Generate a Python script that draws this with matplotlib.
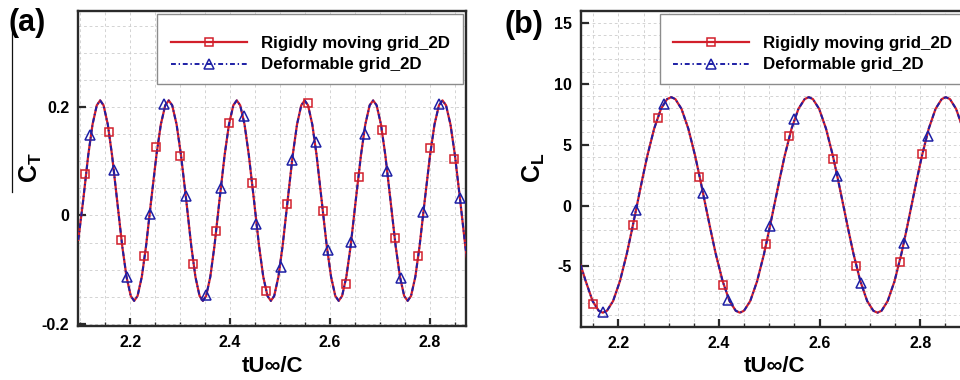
import matplotlib
matplotlib.use('Agg')
import matplotlib.pyplot as plt
from matplotlib.lines import Line2D
from matplotlib.patches import Rectangle
from matplotlib.ticker import MultipleLocator, FixedLocator, FuncFormatter

plt.rcParams['font.family'] = ['Liberation Sans', 'DejaVu Sans']
plt.rcParams['font.weight'] = 'bold'
plt.rcParams['axes.unicode_minus'] = False
plt.rcParams['mathtext.fontset'] = 'custom'
plt.rcParams['mathtext.rm'] = 'Liberation Sans:bold'
plt.rcParams['mathtext.bf'] = 'Liberation Sans:bold'
plt.rcParams['mathtext.it'] = 'Liberation Sans:bold'
plt.rcParams['lines.scale_dashes'] = False

# ---------------- data ----------------
series_labels = ['Rigidly moving grid_2D', 'Deformable grid_2D']
x_ticks = [2.2, 2.4, 2.6, 2.8]
ct_ticks = [-0.2, 0.0, 0.2]
cl_ticks = [-5, 0, 5, 10, 15]

# (a) thrust coefficient curve (both grids coincide)
ct_t = [2.096, 2.1057, 2.1159, 2.1245, 2.1330, 2.1398, 2.1466, 2.1551, 2.1636, 2.1738,
        2.1840, 2.1926, 2.2011, 2.2079, 2.2147, 2.2232, 2.2317, 2.2419, 2.2525, 2.2613,
        2.2701, 2.2771, 2.2841, 2.2929, 2.3017, 2.3123, 2.3223, 2.3306, 2.3389, 2.3455,
        2.3521, 2.3604, 2.3687, 2.3787, 2.3891, 2.3978, 2.4065, 2.4134, 2.4203, 2.4290,
        2.4376, 2.4480, 2.4581, 2.4665, 2.4750, 2.4817, 2.4884, 2.4968, 2.5052, 2.5153,
        2.5255, 2.5341, 2.5426, 2.5494, 2.5562, 2.5647, 2.5733, 2.5835, 2.5937, 2.6023,
        2.6108, 2.6176, 2.6244, 2.6329, 2.6415, 2.6517, 2.6622, 2.6709, 2.6796, 2.6866,
        2.6936, 2.7023, 2.7110, 2.7214, 2.7317, 2.7403, 2.7488, 2.7557, 2.7625, 2.7711,
        2.7796, 2.7899, 2.8006, 2.8095, 2.8184, 2.8255, 2.8326, 2.8415, 2.8504, 2.8610,
        2.8712, 2.8800]
ct_v = [-0.045, 0.0275, 0.1117, 0.1685, 0.2039, 0.2130, 0.2039, 0.1685, 0.1117, 0.0275,
        -0.0567, -0.1135, -0.1489, -0.1580, -0.1489, -0.1135, -0.0567, 0.0275, 0.1117, 0.1685,
        0.2039, 0.2130, 0.2039, 0.1685, 0.1117, 0.0275, -0.0567, -0.1135, -0.1489, -0.1580,
        -0.1489, -0.1135, -0.0567, 0.0275, 0.1117, 0.1685, 0.2039, 0.2130, 0.2039, 0.1685,
        0.1117, 0.0275, -0.0567, -0.1135, -0.1489, -0.1580, -0.1489, -0.1135, -0.0567, 0.0275,
        0.1117, 0.1685, 0.2039, 0.2130, 0.2039, 0.1685, 0.1117, 0.0275, -0.0567, -0.1135,
        -0.1489, -0.1580, -0.1489, -0.1135, -0.0567, 0.0275, 0.1117, 0.1685, 0.2039, 0.2130,
        0.2039, 0.1685, 0.1117, 0.0275, -0.0567, -0.1135, -0.1489, -0.1580, -0.1489, -0.1135,
        -0.0567, 0.0275, 0.1117, 0.1685, 0.2039, 0.2130, 0.2039, 0.1685, 0.1117, 0.0275,
        -0.0567, -0.1135]

# (a) symbols
ct_rigid_t = [2.110, 2.1566, 2.182, 2.228, 2.252, 2.300, 2.3254, 2.372, 2.3974, 2.4446, 2.4714,
              2.5146, 2.556, 2.5854, 2.6314, 2.6574, 2.7046, 2.730, 2.7774, 2.8014, 2.848]
ct_rigid_v = [0.077, 0.154, -0.045, -0.075, 0.126, 0.110, -0.090, -0.028, 0.171, 0.060, -0.140,
              0.022, 0.209, 0.009, -0.127, 0.072, 0.158, -0.042, -0.075, 0.125, 0.105]
ct_deform_t = [2.120, 2.1674, 2.1934, 2.2394, 2.2674, 2.3114, 2.3514, 2.3814, 2.4274, 2.4526, 2.5014,
               2.5246, 2.572, 2.5966, 2.642, 2.6694, 2.7146, 2.7434, 2.7874, 2.8186, 2.8606]
ct_deform_v = [0.149, 0.085, -0.113, 0.003, 0.206, 0.036, -0.148, 0.050, 0.184, -0.015, -0.095,
               0.103, 0.136, -0.063, -0.049, 0.151, 0.083, -0.116, 0.006, 0.206, 0.033]

# (b) lift coefficient curve (both grids coincide)
cl_t = [2.125, 2.135, 2.1486, 2.1608, 2.169, 2.1772, 2.1894, 2.203, 2.2166, 2.2268, 2.237,
        2.2472, 2.2574, 2.2710, 2.2846, 2.2968, 2.3050, 2.3132, 2.3254, 2.3390, 2.3526, 2.3628, 2.3730,
        2.3833, 2.3935, 2.4072, 2.4209, 2.4333, 2.4415, 2.4497, 2.4621, 2.4758, 2.4895, 2.4997, 2.5100,
        2.5203, 2.5305, 2.5442, 2.5579, 2.5703, 2.5785, 2.5867, 2.5991, 2.6128, 2.6265, 2.6367, 2.6470,
        2.6572, 2.6674, 2.6810, 2.6946, 2.7068, 2.7150, 2.7232, 2.7354, 2.7490, 2.7626, 2.7728, 2.7830,
        2.7932, 2.8034, 2.8170, 2.8306, 2.8428, 2.8510, 2.8592, 2.8714, 2.8850, 2.8986, 2.9088]
cl_v = [-4.90, -6.21, -7.84, -8.64, -8.80, -8.64, -7.84, -6.21, -3.97, -2.01, 0.05,
        2.11, 4.07, 6.31, 7.94, 8.74, 8.90, 8.74, 7.94, 6.31, 4.07, 2.11, 0.05,
        -2.01, -3.97, -6.21, -7.84, -8.64, -8.80, -8.64, -7.84, -6.21, -3.97, -2.01, 0.05,
        2.11, 4.07, 6.31, 7.94, 8.74, 8.90, 8.74, 7.94, 6.31, 4.07, 2.11, 0.05,
        -2.01, -3.97, -6.21, -7.84, -8.64, -8.80, -8.64, -7.84, -6.21, -3.97, -2.01, 0.05,
        2.11, 4.07, 6.31, 7.94, 8.74, 8.90, 8.74, 7.94, 6.31, 4.07, 2.11]

# (b) symbols
cl_rigid_t = [2.1503, 2.2286, 2.2784, 2.3605, 2.4088, 2.4932, 2.5395, 2.6264, 2.6722, 2.7597, 2.8034]
cl_rigid_v = [-8.05, -1.58, 7.22, 2.32, -6.49, -3.14, 5.69, 3.83, -4.95, -4.62, 4.21]
cl_deform_t = [2.169, 2.2352, 2.2915, 2.3691, 2.4188, 2.5017, 2.5494, 2.6344, 2.6821, 2.7676, 2.8154]
cl_deform_v = [-8.76, -0.33, 8.37, 1.04, -7.72, -1.70, 7.12, 2.41, -6.40, -3.06, 5.75]

# ---------------- style ----------------
RED = '#d21f2b'
BLUE = '#1d1fa6'
DASHDOT = (0, (3.5, 2.0, 1.0, 2.0))
W, H = 960, 380
MS_SQ, MS_TRI = 6.3, 7.2

fig = plt.figure(figsize=(9.6, 3.8), dpi=100)


def ax_px(l, t, r, b):
    return fig.add_axes([l / W, 1 - b / H, (r - l) / W, (b - t) / H])


def style(ax):
    for s in ax.spines.values():
        s.set_linewidth(1.7)
        s.set_color('#2a2a2a')
    ax.tick_params(which='both', direction='in', labelsize=11.5, pad=6.5, color='#2a2a2a')
    ax.tick_params(which='major', length=6, width=1.6)
    ax.tick_params(which='minor', length=3, width=1.0)
    ax.tick_params(axis='y', which='minor', length=0)
    ax.grid(which='both', color='#cccccc', linestyle=(0, (2, 2)), linewidth=0.6)
    ax.set_axisbelow(True)
    ax.xaxis.set_major_locator(FixedLocator(x_ticks))
    ax.xaxis.set_minor_locator(MultipleLocator(0.05))
    ax.xaxis.set_major_formatter(FuncFormatter(lambda v, p: '%.1f' % v))


def draw(ax, t, v, rt, rv, dt, dv):
    ax.plot(t, v, color=RED, lw=1.6, zorder=3)
    ax.plot(t, v, color=BLUE, lw=1.4, ls=DASHDOT, zorder=4)
    ax.plot(rt, rv, ls='none', marker='s', ms=MS_SQ, mfc='none', mec=RED, mew=1.1, zorder=5)
    ax.plot(dt, dv, ls='none', marker='^', ms=MS_TRI, mfc='none', mec=BLUE, mew=1.1, zorder=5)


def legend_box(ax, box_l, box_t, box_r, box_b, handle_l):
    bb = ax.get_position()
    al, ab = bb.x0 * W, (1 - bb.y1) * H
    aw, ah = bb.width * W, bb.height * H
    fx = lambda px: (px - al) / aw
    fy = lambda py: 1 - (py - ab) / ah
    ax.add_patch(Rectangle((fx(box_l), fy(box_b)), fx(box_r) - fx(box_l), fy(box_t) - fy(box_b),
                           transform=ax.transAxes, facecolor='white', edgecolor='#8c8c8c',
                           lw=1.0, zorder=6, clip_on=False))
    h1 = Line2D([], [], color=RED, lw=1.6, marker='s', ms=MS_SQ, mfc='none', mec=RED, mew=1.1)
    h2 = Line2D([], [], color=BLUE, lw=1.4, ls=DASHDOT, marker='^', ms=MS_TRI, mfc='none', mec=BLUE, mew=1.1)
    leg = ax.legend([h1, h2], series_labels, loc='upper left',
                    bbox_to_anchor=(fx(handle_l), fy(box_t + 22)), borderaxespad=0,
                    borderpad=0, frameon=False, fontsize=12.2, handlelength=4.5,
                    handletextpad=0.8, labelspacing=0.38, numpoints=1)
    leg.set_zorder(7)
    for txt in leg.get_texts():
        txt.set_fontweight('bold')


# panel (a)
axa = ax_px(78.3, 10.7, 465.7, 326.0)
style(axa)
draw(axa, ct_t, ct_v, ct_rigid_t, ct_rigid_v, ct_deform_t, ct_deform_v)
axa.set_xlim(2.096, 2.872)
axa.set_ylim(-0.2045, 0.379)
axa.yaxis.set_major_locator(FixedLocator(ct_ticks))
axa.yaxis.set_minor_locator(MultipleLocator(0.05))
axa.yaxis.set_major_formatter(FuncFormatter(lambda v, p: '%g' % round(v, 3)))
legend_box(axa, 157, 14, 463, 84, 171)

# panel (b)
axb = ax_px(580.7, 10.7, 975.0, 326.7)
style(axb)
draw(axb, cl_t, cl_v, cl_rigid_t, cl_rigid_v, cl_deform_t, cl_deform_v)
axb.set_xlim(2.125, 2.909)
axb.set_ylim(-9.95, 16.0)
axb.yaxis.set_major_locator(FixedLocator(cl_ticks))
axb.yaxis.set_minor_locator(MultipleLocator(1))
axb.yaxis.set_major_formatter(FuncFormatter(lambda v, p: '%g' % v))
legend_box(axb, 660, 14, 1000, 84, 673)

# labels
fig.text(31 / W, 1 - 168 / H, r'$\mathbf{C_T}$', rotation=90, ha='center', va='center', fontsize=18)
fig.text(534 / W, 1 - 168 / H, r'$\mathbf{C_L}$', rotation=90, ha='center', va='center', fontsize=18)
fig.text(272.5 / W, 1 - 366 / H, 'tU\u221e/C', ha='center', va='center', fontsize=16, fontweight='bold')
fig.text(774 / W, 1 - 366 / H, 'tU\u221e/C', ha='center', va='center', fontsize=16, fontweight='bold')
fig.text(27 / W, 1 - 23 / H, '(a)', ha='center', va='center', fontsize=22, fontweight='bold')
fig.text(524 / W, 1 - 25 / H, '(b)', ha='center', va='center', fontsize=22, fontweight='bold')
fig.add_artist(Line2D([11.5 / W, 11.5 / W], [1 - 30 / H, 1 - 192 / H], color='#111111', lw=0.9,
                      transform=fig.transFigure))

fig.savefig('out.png', dpi=100)
